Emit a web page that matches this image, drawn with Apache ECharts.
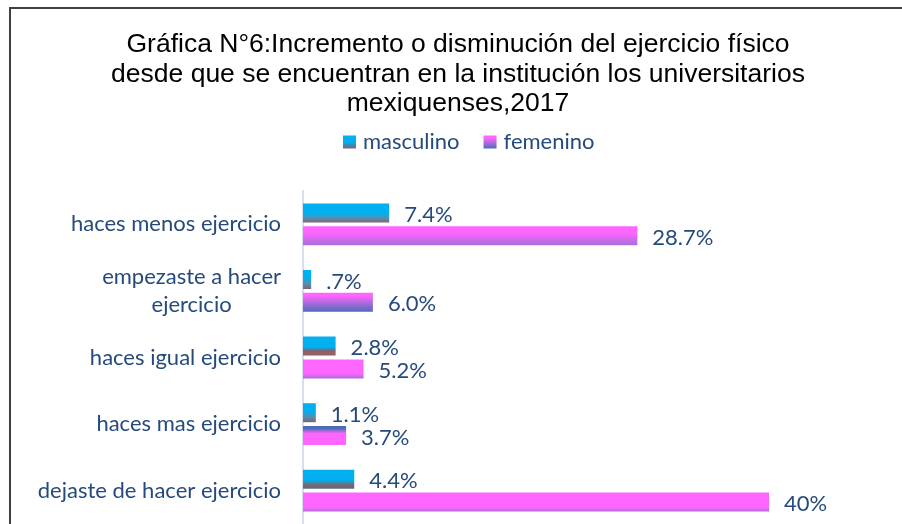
<!DOCTYPE html>
<html>
<head>
<meta charset="utf-8">
<script src="https://cdn.jsdelivr.net/npm/echarts@6/dist/echarts.min.js"></script>
<style>
html,body{margin:0;padding:0;background:#fff;}
#chart{width:902px;height:524px;}
</style>
</head>
<body>
<div id="chart"></div>
<script>
// ---- data ----
const categories = [
  'haces menos ejercicio',
  'empezaste a hacer\nejercicio',
  'haces igual ejercicio',
  'haces mas ejercicio',
  'dejaste de hacer ejercicio'
];
const seriesNames = ['masculino', 'femenino'];
const masculino = [7.4, 0.7, 2.8, 1.1, 4.4];
const femenino = [28.7, 6.0, 5.2, 3.7, 40];
const masculinoLabels = ['7.4%', '.7%', '2.8%', '1.1%', '4.4%'];
const femeninoLabels = ['28.7%', '6.0%', '5.2%', '3.7%', '40%'];
const titleText = 'Gráfica N°6:Incremento o disminución del ejercicio físico\ndesde que se encuentran en la institución los universitarios\nmexiquenses,2017';

// ---- styles ----
function grad(stops) {
  return new echarts.graphic.LinearGradient(0, 0, 0, 1,
    stops.map(s => ({ offset: s[0], color: s[1] })));
}
const CYAN = '#00B0F0', MAG = '#FF66FF', GRAY = '#7D6470', BLUE = '#4A6DB5', PURP = '#A66FD8';
const mascGrads = [
  grad([[0, CYAN], [0.55, CYAN], [0.8, '#5E8AA8'], [1, GRAY]]),
  grad([[0, CYAN], [0.4, CYAN], [0.75, '#5E8AA8'], [1, GRAY]]),
  grad([[0, CYAN], [0.55, CYAN], [0.75, GRAY], [0.85, '#A06060'], [1, GRAY]]),
  grad([[0, CYAN], [0.45, CYAN], [0.75, '#5E8AA8'], [1, GRAY]]),
  grad([[0, CYAN], [0.55, CYAN], [0.8, GRAY], [1, '#5C6C80']])
];
const femGrads = [
  grad([[0, MAG], [0.35, MAG], [1, PURP]]),
  grad([[0, MAG], [0.15, MAG], [1, BLUE]]),
  grad([[0, MAG], [0.75, MAG], [1, PURP]]),
  grad([[0, BLUE], [0.12, BLUE], [0.4, MAG], [1, MAG]]),
  grad([[0, MAG], [0.8, MAG], [1, PURP]])
];
const TEXT = '#254A7C';
const FONT = 'Lato';

const chart = echarts.init(document.getElementById('chart'), null, { renderer: 'canvas' });
chart.setOption({
  animation: false,
  backgroundColor: '#fff',
  graphic: [
    { type: 'rect', shape: { x: 10, y: 8, width: 1000, height: 1000 },
      style: { fill: 'none', stroke: '#404040', lineWidth: 2 }, silent: true, z: 100 },
    { type: 'text', x: 458, y: 30,
      style: { text: titleText, fill: '#000', font: '26.5px "Liberation Sans", Arial, sans-serif',
        textAlign: 'center', textVerticalAlign: 'top', lineHeight: 29.5 } }
  ],
  legend: {
    left: 338, top: 126,
    itemWidth: 13, itemHeight: 13, itemGap: 24,
    icon: 'rect',
    textStyle: { color: TEXT, fontSize: 22, fontFamily: FONT, padding: [0, 0, 0, 2] },
    data: seriesNames
  },
  grid: { left: 303, top: 191, width: 582.5, height: 338, containLabel: false },
  xAxis: { type: 'value', min: 0, max: 50, show: false },
  yAxis: {
    type: 'category', data: categories, inverse: true,
    axisLine: { show: true, lineStyle: { color: '#D6DEEB', width: 2 } },
    axisTick: { show: false },
    axisLabel: {
      color: TEXT, fontSize: 22, fontFamily: FONT, margin: 22, lineHeight: 28, align: 'right',
      formatter: v => v.split('\n').map(s => '{c|' + s + '}').join('\n'),
      rich: { c: { align: 'center', color: TEXT, fontSize: 22, fontFamily: FONT, lineHeight: 28 } }
    }
  },
  series: [
    {
      name: seriesNames[0], type: 'bar', barWidth: 19, barGap: '20%',
      itemStyle: { color: grad([[0, CYAN], [0.5, CYAN], [1, GRAY]]) },
      data: masculino.map((v, i) => ({ value: v, itemStyle: { color: mascGrads[i] } })),
      label: { show: true, position: 'right', distance: 15, offset: [0, 2], color: TEXT, fontSize: 22, fontFamily: FONT,
        formatter: p => masculinoLabels[p.dataIndex] }
    },
    {
      name: seriesNames[1], type: 'bar', barWidth: 19, barGap: '20%',
      itemStyle: { color: grad([[0, MAG], [0.2, MAG], [1, BLUE]]) },
      data: femenino.map((v, i) => ({ value: v, itemStyle: { color: femGrads[i] } })),
      label: { show: true, position: 'right', distance: 15, offset: [0, 2], color: TEXT, fontSize: 22, fontFamily: FONT,
        formatter: p => femeninoLabels[p.dataIndex] }
    }
  ]
});
</script>
</body>
</html>
